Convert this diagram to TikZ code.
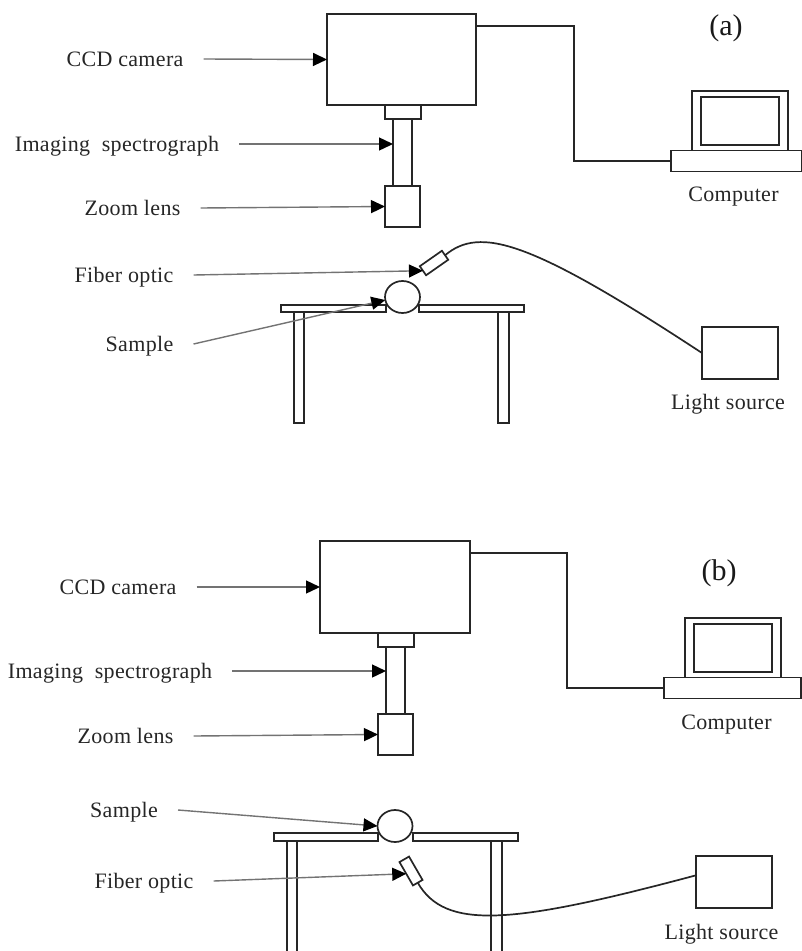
\documentclass[tikz,border=0pt]{standalone}
\usepackage{fontspec}
\setmainfont{Liberation Serif}
\newfontfamily\lblfont[LetterSpace=1.5]{Liberation Serif}
\usetikzlibrary{positioning,arrows.meta,shapes.geometric}

\begin{document}
\begin{tikzpicture}[
    x=1pt, y=-1pt,
    partbox/.style={draw=black!85, line width=1.7pt, inner sep=0pt, outer sep=0pt, fill=white},
    partline/.style={draw=black!85, line width=1.7pt},
    wire/.style={draw=black!85, line width=1.7pt},
    lead/.style={draw=black!55, line width=1.4pt, -{Triangle[black, length=14pt, width=13pt]}},
    txt/.style={font=\lblfont\fontsize{22}{24}\selectfont, text=black!85, inner xsep=20pt, inner ysep=0pt, text height=14pt, text depth=0pt},
    Plbl/.style={font=\fontsize{30}{32}\selectfont, text=black!90},
]
\useasboundingbox (0,0) rectangle (802,951);

% part (a)
\node[partbox, minimum width=36pt, minimum height=14pt] (flangeA) at (403,112) {};
\node[partbox, minimum width=19pt, minimum height=67pt] (tubeA) at (402.5,152.5) {};
\node[partbox, minimum width=149pt, minimum height=91pt] (camA) at (401.5,59.5) {};
\node[partbox, minimum width=35pt, minimum height=41pt] (lensA) at (402.5,206.5) {};
\node[partbox, minimum width=96pt, minimum height=60pt] (screenA) at (740,121) {};
\node[partbox, minimum width=78pt, minimum height=48pt] (panelA) at (740,121) {};
\node[partbox, minimum width=131pt, minimum height=21pt] (baseA) at (736.5,161) {};
\node[partbox, minimum width=76pt, minimum height=52pt] (srcA) at (740,353) {};
\draw[partline, fill=white] (281,305) rectangle (386,312);
\draw[partline, fill=white] (419,305) rectangle (524,312);
\draw[partline] (294,312) rectangle (304,423);
\draw[partline] (498,312) rectangle (509,423);
\node[partbox, ellipse, minimum width=35pt, minimum height=32pt] (sampleA) at (402.5,297) {};
\node[partbox, minimum width=27pt, minimum height=11pt, rotate=35] (probeA) at (434,263) {};
\draw[wire] (camA.east |- 0,26) -- (574,26) -- (574,161) -- (baseA.west);
\draw[wire] (probeA.east) .. controls (480,226) and (530,240) .. (srcA.west);

\node[txt] (ccdA) at (125,59) {CCD camera};
\node[txt] (imgA) at (117,144) {Imaging\ \ spectrograph};
\node[txt] (zoomA) at (132.5,208) {Zoom lens};
\node[txt] (fiberA) at (124,275) {Fiber optic};
\node[txt] (smpA) at (139.5,344) {Sample};
\node[txt] (pcA) at (733.5,194) {Computer};
\node[txt] (lightA) at (728,402) {Light source};
\node[Plbl] (tagA) at (726,28) {(a)};
\draw[lead] (ccdA.east) -- (camA.west);
\draw[lead] (imgA.east) -- (imgA.east -| tubeA.west);
\draw[lead] (zoomA.east) -- (lensA.west);
\draw[lead] (fiberA.east) -- (probeA.west);
\draw[lead] (smpA.east) -- (sampleA.190);

% part (b)
\node[partbox, minimum width=36pt, minimum height=14pt] (flangeB) at (396,640) {};
\node[partbox, minimum width=19pt, minimum height=67pt] (tubeB) at (395.5,680.5) {};
\node[partbox, minimum width=150pt, minimum height=92pt] (camB) at (395,587) {};
\node[partbox, minimum width=35pt, minimum height=41pt] (lensB) at (395.5,734.5) {};
\node[partbox, minimum width=96pt, minimum height=60pt] (screenB) at (733,648) {};
\node[partbox, minimum width=78pt, minimum height=48pt] (panelB) at (733,648) {};
\node[partbox, minimum width=137pt, minimum height=21pt] (baseB) at (732.5,688) {};
\node[partbox, minimum width=76pt, minimum height=52pt] (srcB) at (734,882) {};
\draw[partline, fill=white] (274,833) rectangle (378,841);
\draw[partline, fill=white] (413,833) rectangle (518,841);
\draw[partline] (287,841) rectangle (297,960);
\draw[partline] (491,841) rectangle (502,960);
\node[partbox, ellipse, minimum width=35pt, minimum height=32pt] (sampleB) at (395,826) {};
\node[partbox, minimum width=27pt, minimum height=11pt, rotate=-60] (probeB) at (411,871) {};
\draw[wire] (camB.east |- 0,553) -- (567,553) -- (567,688) -- (baseB.west);
\draw[wire] (probeB.east) .. controls (445,930) and (510,925) .. (srcB.170);

\node[txt] (ccdB) at (118,587) {CCD camera};
\node[txt] (imgB) at (110,671) {Imaging\ \ spectrograph};
\node[txt] (zoomB) at (125.5,736) {Zoom lens};
\node[txt] (smpB) at (124,810) {Sample};
\node[txt] (fiberB) at (144,881) {Fiber optic};
\node[txt] (pcB) at (726.5,722) {Computer};
\node[txt] (lightB) at (721.5,932) {Light source};
\node[Plbl] (tagB) at (719,573) {(b)};
\draw[lead] (ccdB.east) -- (camB.west);
\draw[lead] (imgB.east) -- (imgB.east -| tubeB.west);
\draw[lead] (zoomB.east) -- (lensB.west);
\draw[lead] (smpB.east) -- (sampleB.west);
\draw[lead] (fiberB.east) -- (probeB.south);
\end{tikzpicture}
\end{document}
